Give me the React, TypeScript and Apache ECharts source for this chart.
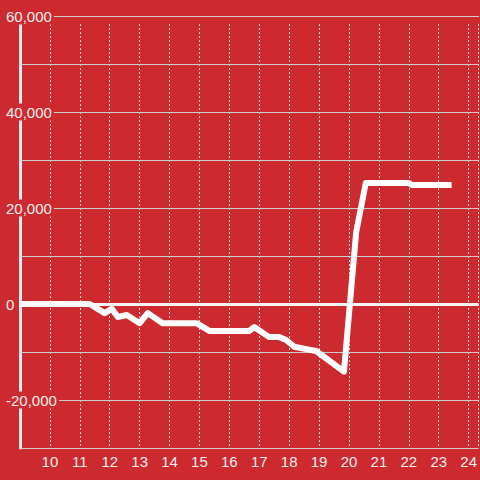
import React, { useEffect, useRef } from "react";
import * as echarts from "echarts";

// Data (x = hour of day, y = value)
const hours: number[] = [9, 11.33, 11.83, 12.07, 12.27, 12.57, 13.0, 13.27, 13.77, 14.9, 15.33, 16.67, 16.83, 17.33, 17.67, 17.9, 18.17, 18.57, 18.9, 19.23, 19.83, 20.24, 20.56, 22.0, 22.1, 23.43];
const values: number[] = [0, 0, -1900, -1000, -2700, -2300, -4000, -1900, -4000, -4000, -5600, -5600, -4800, -6900, -6900, -7500, -8900, -9400, -9800, -11300, -14100, 15000, 25200, 25200, 24800, 24800];

const yMin = -30000;
const yMax = 60000;
const yStep = 10000;
const yLabelStep = 20000;
const xMin = 9;
const xMax = 24.3333;

const BG = "#cc2a2f";
const TEXT = "#eeeeee";
const FONT = "Liberation Sans, Arial, sans-serif";

export default function App() {
  const ref = useRef<HTMLDivElement>(null);
  useEffect(() => {
    if (!ref.current) return;
    const chart = echarts.init(ref.current, null, { renderer: "svg" });
    const data = hours.map((h, i) => [h, values[i]]);
    chart.setOption({
      animation: false,
      backgroundColor: BG,
      grid: { left: 20, right: 0, top: 16, bottom: 32, containLabel: false },
      graphic: [
        {
          type: "rect",
          z: 2,
          silent: true,
          shape: { x: 0, y: 17, width: 480, height: 6 },
          style: { fill: BG },
        },
      ],
      xAxis: {
        type: "value",
        min: xMin,
        max: xMax,
        interval: 1,
        z: 0,
        axisLine: { show: false, onZero: false },
        axisTick: { show: false },
        axisLabel: {
          color: TEXT,
          fontSize: 15,
          fontFamily: FONT,
          margin: 6,
          showMinLabel: false,
          showMaxLabel: false,
          formatter: (v: number) => (Number.isInteger(v) && v > xMin ? String(v) : ""),
        },
        splitLine: { show: true, lineStyle: { color: "#dddddd", width: 1, type: [2, 2] } },
      },
      yAxis: [
        {
          type: "value",
          position: "left",
          min: yMin,
          max: yMax,
          interval: yStep,
          z: 3,
          axisLine: { show: false, onZero: false },
          axisTick: { show: false },
          axisLabel: {
            align: "left",
            margin: 16,
            formatter: (v: number) =>
              v % yLabelStep === 0 ? `{b|${v.toLocaleString("en-US")}}` : "",
            rich: {
              b: {
                color: TEXT,
                fontSize: 15,
                fontFamily: FONT,
                backgroundColor: BG,
                padding: [1, 2, 1, 2],
              },
            },
          },
          splitLine: { show: true, lineStyle: { color: "#cccccc", width: 1 } },
        },
        {
          type: "value",
          position: "left",
          min: yMin,
          max: yMax,
          interval: yStep,
          z: 1,
          axisLine: { show: true, onZero: false, lineStyle: { color: "#eeeeee", width: 3 } },
          axisTick: { show: false },
          axisLabel: { show: false },
          splitLine: { show: false },
        },
      ],
      series: [
        {
          type: "line",
          z: 10,
          yAxisIndex: 0,
          data,
          showSymbol: false,
          symbol: "none",
          lineStyle: { color: "#ffffff", width: 6, join: "round", cap: "butt" },
          markLine: {
            z: 4,
            silent: true,
            symbol: ["none", "none"],
            label: { show: false },
            lineStyle: { color: "#f4f4f4", width: 3, type: "solid" },
            data: [{ yAxis: 0 }],
          },
        },
      ],
    });
    return () => chart.dispose();
  }, []);
  return (
    <div
      ref={ref}
      style={{ position: "fixed", left: 0, top: 0, width: 480, height: 480 }}
    />
  );
}
